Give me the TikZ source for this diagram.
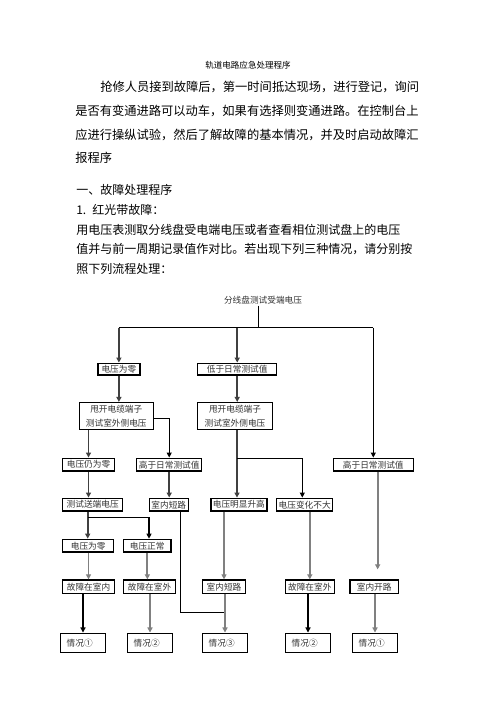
\documentclass[tikz,border=0pt]{standalone}
\usepackage{fontspec}
\setmainfont{Noto Sans CJK SC}
\usetikzlibrary{arrows.meta}
\begin{document}
\begin{tikzpicture}[x=0.75pt,y=-0.75pt,
  bodyA/.style={anchor=west,inner sep=0pt,font=\fontsize{9.2pt}{11pt}\selectfont},
  bodyB/.style={anchor=west,inner sep=0pt,font=\fontsize{9.0pt}{11pt}\selectfont},
  box/.style={draw=black,line width=1.1pt,inner sep=0pt,align=center,
    font=\fontsize{6.5pt}{10.3pt}\selectfont,text=black!80},
  r1/.style={box,minimum height=8.8pt},
  r2/.style={box,minimum height=9.6pt},
  r3/.style={box,minimum height=10.2pt},
  r4/.style={box,minimum height=14.3pt,minimum width=34pt},
  blk/.style={line width=0.8pt,black},
  dk/.style={line width=1.2pt,black!75},
  gr/.style={line width=1.4pt,black!50},
  arr/.style={-{Triangle[width=3.8pt,length=3.8pt]}}
]
\fill[white] (0,0) rectangle (496,702);
\useasboundingbox (0,0) rectangle (496,702);

% ---- text ----
\node[anchor=center,inner sep=0pt,font=\fontsize{6.4pt}{8pt}\selectfont] (title) at (248,65) {轨道电路应急处理程序};
\node[bodyA] (p1) at (100,86.7) {抢修人员接到故障后，第一时间抵达现场，进行登记，询问};
\node[bodyA] (p2) at (75,111) {是否有变通进路可以动车，如果有选择则变通进路。在控制台上};
\node[bodyA] (p3) at (75,135) {应进行操纵试验，然后了解故障的基本情况，并及时启动故障汇};
\node[bodyA] (p4) at (75,157.7) {报程序};
\node[bodyB] (h1) at (76,190) {一、故障处理程序};
\node[bodyB] (h2) at (76,209.5) {\makebox[12pt][l]{1.}红光带故障：};
\node[bodyB] (q1) at (76,230) {用电压表测取分线盘受电端电压或者查看相位测试盘上的电压};
\node[bodyB] (q2) at (76,249.5) {值并与前一周期记录值作对比。若出现下列三种情况，请分别按};
\node[bodyB] (q3) at (76,268.5) {照下列流程处理：};

% ---- flowchart nodes ----
\node[inner sep=1pt,font=\fontsize{6.5pt}{8pt}\selectfont,text=black!80] (src) at (263,300) {分线盘测试受端电压};

\node[r1,minimum width=31.7pt] (zero1) at (118.9,369.2) {电压为零};
\node[r1,minimum width=59.3pt] (low) at (237.2,369.2) {低于日常测试值};

\node[box,minimum width=55.5pt,minimum height=20pt] (cut1) at (116.3,416) {甩开电缆端子\\测试室外侧电压};
\node[box,minimum width=56pt,minimum height=20pt] (cut2) at (235,416) {甩开电缆端子\\测试室外侧电压};

\node[r2,minimum width=38.7pt] (still0) at (88.5,464.7) {电压仍为零};
\node[r2,minimum width=48.8pt] (high1) at (169.2,464.7) {高于日常测试值};
\node[r2,minimum width=60pt] (high2) at (373.3,464.7) {高于日常测试值};

\node[r2,minimum width=45pt] (send) at (92.7,504.7) {测试送端电压};
\node[r2,minimum width=29.3pt] (short1) at (168.8,504.7) {室内短路};
\node[r2,minimum width=41.8pt] (rise) at (238.9,504.7) {电压明显升高};
\node[r2,minimum width=42pt] (nochange) at (304.7,504.7) {电压变化不大};

\node[r2,minimum width=38.3pt] (zero2) at (88.2,545.8) {电压为零};
\node[r2,minimum width=35.8pt] (normal) at (147.2,545.8) {电压正常};

\node[r3,minimum width=39.3pt] (inroom) at (88.5,586.9) {故障在室内};
\node[r3,minimum width=39.3pt] (out1) at (149.5,586.9) {故障在室外};
\node[r3,minimum width=32.6pt] (short2) at (224,586.9) {室内短路};
\node[r3,minimum width=36.8pt] (out2) at (309.8,586.9) {故障在室外};
\node[r3,minimum width=36.2pt] (open) at (374.2,586.9) {室内开路};

\node[r4] (s1) at (83,642.8) {情况①\hspace{5pt}};
\node[r4] (s2) at (150,642.8) {情况②\hspace{5pt}};
\node[r4] (s3) at (225,642.8) {情况③\hspace{5pt}};
\node[r4] (s4) at (308,642.8) {情况②\hspace{5pt}};
\node[r4] (s5) at (375,642.8) {情况①\hspace{5pt}};

% ---- connectors ----
\coordinate (j0) at (258.3,327.7);
\draw[blk] (j0 |- src.south) -- (j0);
\draw[blk] (zero1.north |- j0) -- (high2.north |- j0);
\draw[dk,arr] (zero1.north |- j0) -- (zero1.north);
\draw[dk,arr] (low.north |- j0) -- (low.north);
\draw[blk,arr] (high2.north |- j0) -- (high2.north);

\draw[dk,arr] (zero1.south) -- (zero1.south |- cut1.north);
\draw[dk,arr] (low.south) -- (low.south |- cut2.north);

\draw[dk,arr] (still0.north |- cut1.south) -- (still0.north);
\draw[blk,arr] ([yshift=-1.7pt]cut1.east) -| (high1.north);

\draw[dk,arr] (still0.south) -- (still0.south |- send.north);
\draw[dk,arr] (high1.south) -- (high1.south |- short1.north);

\coordinate (j1) at (237,458.3);
\coordinate (nc) at ([xshift=-1.8pt]nochange.north);
\draw[dk] (j1 |- cut2.south) -- (j1);
\draw[dk,arr] (j1) -- (j1 |- rise.north);
\draw[blk,arr] (j1) -| (nc);

\coordinate (j2) at (87.7,517.3);
\coordinate (nm) at ([xshift=1.35pt]normal.north);
\draw[dk] (j2 |- send.south) -- (j2);
\draw[dk,arr] (j2) -- (j2 |- zero2.north);
\draw[blk,arr] (j2) -| (nm);

\coordinate (j3) at (180.3,612.3);
\draw[blk] (j3 |- short1.south) -- (j3) -- (s3.north |- j3);

\draw[gr,arr] (short2.north |- rise.south) -- (short2.north);
\draw[gr,arr] (out2.north |- nochange.south) -- (out2.north);
\coordinate (opin) at ([xshift=2.6pt,yshift=7.5pt]open.north);
\draw[gr,arr] (opin |- high2.south) -- (opin);

\coordinate (o1) at ([xshift=-1.6pt]out1.north);
\draw[gr,arr] (inroom.north |- zero2.south) -- (inroom.north);
\draw[gr,arr] (o1 |- normal.south) -- (o1);

\draw[blk,arr] (s1.north |- inroom.south) -- (s1.north);
\draw[gr,arr] (s2.north |- out1.south) -- (s2.north);
\draw[gr,arr] (s3.north |- short2.south) -- (s3.north);
\draw[blk,arr] (s4.north |- out2.south) -- (s4.north);
\draw[gr,arr] (s5.north |- open.south) -- (s5.north);
\end{tikzpicture}
\end{document}
